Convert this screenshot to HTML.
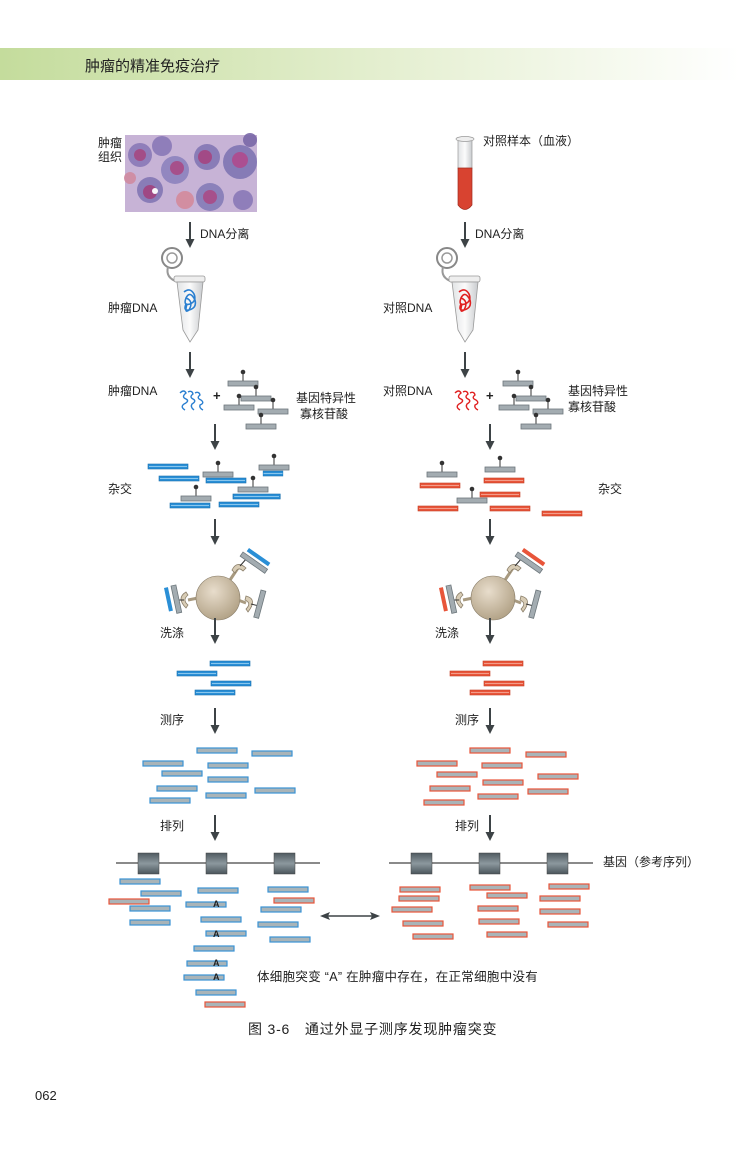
<!DOCTYPE html>
<html><head><meta charset="utf-8">
<style>
html,body{margin:0;padding:0;background:#fff;}
body{width:750px;height:1167px;overflow:hidden;position:relative;font-family:"Liberation Sans","Noto Sans CJK SC",sans-serif;}
svg text{font-family:"Liberation Sans","Noto Sans CJK SC",sans-serif;fill:#222;}
</style></head><body>
<svg width="750" height="1167" viewBox="0 0 750 1167" xmlns="http://www.w3.org/2000/svg">
<defs>
<linearGradient id="hdr" x1="0" x2="1" y1="0" y2="0">
<stop offset="0" stop-color="#c4dc9c"/><stop offset="0.55" stop-color="#e6f0d3"/><stop offset="1" stop-color="#ffffff"/></linearGradient>
<linearGradient id="box" x1="0" x2="0" y1="0" y2="1">
<stop offset="0" stop-color="#4f5a60"/><stop offset="0.5" stop-color="#8c989e"/><stop offset="1" stop-color="#4a555b"/></linearGradient>
<radialGradient id="bead" cx="0.4" cy="0.35" r="0.7">
<stop offset="0" stop-color="#e8ddcc"/><stop offset="1" stop-color="#b0a084"/></radialGradient>
<linearGradient id="tube" x1="0" x2="1"><stop offset="0" stop-color="#e1e3e5"/><stop offset="0.5" stop-color="#fbfbfb"/><stop offset="1" stop-color="#c8cbce"/></linearGradient>
<g id="arrow"><line x1="0" y1="0" x2="0" y2="20" stroke="#3d4346" stroke-width="2"/><path d="M-4.5,17 L0,26 L4.5,17 Z" fill="#3d4346"/></g>
<g id="olig"><line x1="15" y1="0" x2="15" y2="-8" stroke="#333" stroke-width="1"/><circle cx="15" cy="-9" r="2.3" fill="#333"/><rect x="0" y="0" width="30" height="5" fill="#a3acb1" stroke="#6d777c" stroke-width="0.8"/></g>
<g id="bb"><rect x="0" y="0" width="40" height="5" fill="#2a8fd6" stroke="#1a6fae" stroke-width="0.6"/><line x1="1" y1="2.5" x2="39" y2="2.5" stroke="#a8d8f5" stroke-width="0.8"/></g>
<g id="rb"><rect x="0" y="0" width="40" height="5" fill="#e8553a" stroke="#c43e24" stroke-width="0.6"/><line x1="1" y1="2.5" x2="39" y2="2.5" stroke="#f7b4a4" stroke-width="0.8"/></g>
<g id="br"><rect x="0" y="0" width="40" height="5" fill="#a9b4b8" stroke="#3a93d4" stroke-width="1.2"/></g>
<g id="rr"><rect x="0" y="0" width="40" height="5" fill="#a9b4b8" stroke="#e8553a" stroke-width="1.2"/></g>
</defs>

<rect x="0" y="48" width="740" height="32" fill="url(#hdr)"/>
<text x="85" y="71" font-size="15">肿瘤的精准免疫治疗</text>

<text x="98" y="147" font-size="12">肿瘤</text>
<text x="98" y="161" font-size="12">组织</text>
<rect x="125" y="135" width="132" height="77" fill="#c7b3d6"/>
<g opacity="0.9">
<circle cx="140" cy="155" r="12" fill="#8a79b7"/><circle cx="140" cy="155" r="6" fill="#a0427f"/>
<circle cx="162" cy="146" r="10" fill="#8a79b7"/><circle cx="175" cy="170" r="14" fill="#8d83be"/><circle cx="177" cy="168" r="7" fill="#a34683"/>
<circle cx="207" cy="157" r="13" fill="#8377b4"/><circle cx="205" cy="157" r="7" fill="#9f3f7e"/>
<circle cx="240" cy="162" r="17" fill="#7f75b3"/><circle cx="240" cy="160" r="8" fill="#a8458a"/>
<circle cx="150" cy="190" r="13" fill="#8377b4"/><circle cx="150" cy="192" r="7" fill="#9b3d7c"/>
<circle cx="210" cy="197" r="14" fill="#857cb8"/><circle cx="210" cy="197" r="7" fill="#a34683"/>
<circle cx="185" cy="200" r="9" fill="#d48a9c"/><circle cx="243" cy="200" r="10" fill="#8a79b7"/>
<circle cx="130" cy="178" r="6" fill="#d08aa0"/><circle cx="250" cy="140" r="7" fill="#7a68a8"/>
<circle cx="155" cy="191" r="3" fill="#fff"/>
</g>

<rect x="458" y="139" width="14" height="30" fill="url(#tube)" stroke="#999" stroke-width="0.7"/>
<ellipse cx="465" cy="139" rx="9" ry="2.5" fill="#eee" stroke="#999" stroke-width="0.7"/>
<path d="M458,168 L472,168 L472,205 Q465,214 458,205 Z" fill="#d84330" stroke="#a12c1e" stroke-width="0.7"/>
<text x="483" y="145" font-size="12">对照样本（血液）</text>

<use href="#arrow" x="190" y="222"/>
<text x="200" y="238" font-size="12">DNA分离</text>
<use href="#arrow" x="465" y="222"/>
<text x="475" y="238" font-size="12">DNA分离</text>

<g id="eppL">
<circle cx="172" cy="258" r="10" fill="none" stroke="#888" stroke-width="2"/><circle cx="172" cy="258" r="5" fill="none" stroke="#999" stroke-width="1.5"/>
<path d="M168,267 Q165,278 178,282" fill="none" stroke="#999" stroke-width="2"/>
<rect x="174" y="276" width="31" height="6" rx="2" fill="#eee" stroke="#999" stroke-width="0.8"/>
<path d="M177,282 L203,282 L198,330 L190,342 L183,330 Z" fill="url(#tube)" stroke="#999" stroke-width="0.8"/>
</g>
<g stroke="#2a7fd0" stroke-width="1.6" fill="none">
<path d="M184,292 q6,-5 10,2 q3,7 -4,10 q-7,2 -4,-6 q4,-8 9,2 q2,8 -6,10 q-6,1 -3,-6 M186,298 q8,3 3,12 q-5,4 -2,-6"/>
</g>
<text x="108" y="312" font-size="12">肿瘤DNA</text>
<use href="#eppL" x="275"/>
<g stroke="#e02020" stroke-width="1.6" fill="none" transform="translate(275,0)">
<path d="M184,292 q6,-5 10,2 q3,7 -4,10 q-7,2 -4,-6 q4,-8 9,2 q2,8 -6,10 q-6,1 -3,-6 M186,298 q8,3 3,12 q-5,4 -2,-6"/>
</g>
<text x="383" y="312" font-size="12">对照DNA</text>

<use href="#arrow" x="190" y="352"/>
<use href="#arrow" x="465" y="352"/>

<text x="108" y="395" font-size="12">肿瘤DNA</text>
<path d="M180,393 q4,-4 6,0 q-5,4 0,6 q4,2 -2,5 q-4,3 1,6 M188,392 q4,-2 5,2 q-4,3 0,5 q4,2 -1,5 q-2,3 2,6 M195,393 q4,-2 5,2 q-4,3 1,5 q4,3 -1,5 q-1,3 3,5" fill="none" stroke="#2a7fd0" stroke-width="1.4"/>
<text x="213" y="400" font-size="13" font-weight="bold">+</text>
<g id="oligs">
<use href="#olig" x="228" y="381"/><use href="#olig" x="241" y="396"/><use href="#olig" x="224" y="405"/><use href="#olig" x="258" y="409"/><use href="#olig" x="246" y="424"/>
</g>
<text x="296" y="402" font-size="12">基因特异性</text>
<text x="300" y="418" font-size="12">寡核苷酸</text>

<text x="383" y="395" font-size="12">对照DNA</text>
<path d="M455,393 q4,-4 6,0 q-5,4 0,6 q4,2 -2,5 q-4,3 1,6 M463,392 q4,-2 5,2 q-4,3 0,5 q4,2 -1,5 q-2,3 2,6 M470,393 q4,-2 5,2 q-4,3 1,5 q4,3 -1,5 q-1,3 3,5" fill="none" stroke="#e02020" stroke-width="1.4"/>
<text x="486" y="400" font-size="13" font-weight="bold">+</text>
<use href="#oligs" x="275"/>
<text x="568" y="395" font-size="12">基因特异性</text>
<text x="568" y="411" font-size="12">寡核苷酸</text>

<use href="#arrow" x="215" y="424"/>
<use href="#arrow" x="490" y="424"/>

<text x="108" y="493" font-size="12">杂交</text>
<use href="#bb" x="148" y="464"/>
<use href="#bb" x="159" y="476"/>
<use href="#olig" x="203" y="472"/><use href="#bb" x="206" y="478"/>
<use href="#olig" x="259" y="465"/><g transform="translate(263,471) scale(0.5,1)"><use href="#bb"/></g>
<use href="#olig" x="238" y="487"/>
<g transform="translate(233,494) scale(1.18,1)"><use href="#bb"/></g>
<use href="#olig" x="181" y="496"/><use href="#bb" x="170" y="503"/>
<use href="#bb" x="219" y="502"/>

<text x="598" y="493" font-size="12">杂交</text>
<use href="#olig" x="427" y="472"/><use href="#rb" x="420" y="483"/>
<use href="#olig" x="485" y="467"/><use href="#rb" x="484" y="478"/>
<use href="#rb" x="480" y="492"/>
<use href="#olig" x="457" y="498"/><use href="#rb" x="418" y="506"/>
<use href="#rb" x="490" y="506"/>
<use href="#rb" x="542" y="511"/>

<use href="#arrow" x="215" y="519"/>
<use href="#arrow" x="490" y="519"/>

<g id="beadL">
<line x1="230" y1="580" x2="238" y2="568" stroke="#a89a80" stroke-width="3"/>
<path d="M232,570 q5,-10 14,-2 l-3,3 q-5,-5 -8,2 z" fill="#d8ccb5" stroke="#8b7f6a" stroke-width="0.8"/>
<line x1="240" y1="566" x2="247" y2="558" stroke="#333" stroke-width="1"/>
<g transform="translate(243,552) rotate(35)"><rect x="0" y="0" width="30" height="5" fill="#a3acb1" stroke="#6d777c" stroke-width="0.8"/></g>
<line x1="198" y1="598" x2="188" y2="600" stroke="#a89a80" stroke-width="3"/>
<path d="M186,592 q-10,6 0,16 l2,-3 q-6,-5 0,-10 z" fill="#d8ccb5" stroke="#8b7f6a" stroke-width="0.8"/>
<line x1="184" y1="600" x2="175" y2="600" stroke="#333" stroke-width="1"/>
<g transform="translate(171,586) rotate(-12)"><rect x="0" y="0" width="5" height="28" fill="#a3acb1" stroke="#6d777c" stroke-width="0.8"/></g>
<line x1="238" y1="600" x2="246" y2="603" stroke="#a89a80" stroke-width="3"/>
<path d="M246,596 q12,3 2,16 l-2,-3 q6,-6 -1,-9 z" fill="#d8ccb5" stroke="#8b7f6a" stroke-width="0.8"/>
<line x1="251" y1="604" x2="259" y2="606" stroke="#333" stroke-width="1"/>
<g transform="translate(261,590) rotate(15)"><rect x="0" y="0" width="5" height="28" fill="#a3acb1" stroke="#6d777c" stroke-width="0.8"/></g>
<circle cx="218" cy="598" r="22" fill="url(#bead)" stroke="#8b7f6a" stroke-width="0.6"/>
</g>
<g transform="translate(249,548) rotate(35)"><rect x="0" y="0" width="26" height="4" fill="#2a8fd6"/></g>
<g transform="translate(164,588) rotate(-12)"><rect x="0" y="0" width="4" height="24" fill="#2a8fd6"/></g>
<use href="#beadL" x="275"/>
<g transform="translate(524,548) rotate(35)"><rect x="0" y="0" width="26" height="4" fill="#e8553a"/></g>
<g transform="translate(439,588) rotate(-12)"><rect x="0" y="0" width="4" height="24" fill="#e8553a"/></g>

<text x="160" y="637" font-size="12">洗涤</text>
<use href="#arrow" x="215" y="618"/>
<text x="435" y="637" font-size="12">洗涤</text>
<use href="#arrow" x="490" y="618"/>
<use href="#bb" x="210" y="661"/><use href="#bb" x="177" y="671"/><use href="#bb" x="211" y="681"/><use href="#bb" x="195" y="690"/>
<use href="#rb" x="483" y="661"/><use href="#rb" x="450" y="671"/><use href="#rb" x="484" y="681"/><use href="#rb" x="470" y="690"/>

<text x="160" y="724" font-size="12">测序</text>
<use href="#arrow" x="215" y="708"/>
<text x="455" y="724" font-size="12">测序</text>
<use href="#arrow" x="490" y="708"/>
<g>
<use href="#br" x="197" y="748"/><use href="#br" x="143" y="761"/><use href="#br" x="252" y="751"/><use href="#br" x="208" y="763"/>
<use href="#br" x="162" y="771"/><use href="#br" x="208" y="777"/><use href="#br" x="157" y="786"/><use href="#br" x="255" y="788"/>
<use href="#br" x="206" y="793"/><use href="#br" x="150" y="798"/>
</g>
<g>
<use href="#rr" x="470" y="748"/><use href="#rr" x="417" y="761"/><use href="#rr" x="526" y="752"/><use href="#rr" x="482" y="763"/>
<use href="#rr" x="437" y="772"/><use href="#rr" x="538" y="774"/><use href="#rr" x="483" y="780"/><use href="#rr" x="430" y="786"/>
<use href="#rr" x="528" y="789"/><use href="#rr" x="478" y="794"/><use href="#rr" x="424" y="800"/>
</g>

<text x="160" y="830" font-size="12">排列</text>
<use href="#arrow" x="215" y="815"/>
<text x="455" y="830" font-size="12">排列</text>
<use href="#arrow" x="490" y="815"/>

<g id="gene">
<line x1="116" y1="863" x2="320" y2="863" stroke="#444" stroke-width="1.2"/>
<rect x="138" y="853" width="21" height="21" fill="url(#box)" stroke="#444" stroke-width="0.5"/>
<rect x="206" y="853" width="21" height="21" fill="url(#box)" stroke="#444" stroke-width="0.5"/>
<rect x="274" y="853" width="21" height="21" fill="url(#box)" stroke="#444" stroke-width="0.5"/>
</g>
<use href="#gene" x="273"/>
<text x="603" y="866" font-size="12">基因（参考序列）</text>

<use href="#br" x="120" y="879"/><use href="#br" x="141" y="891"/><use href="#rr" x="109" y="899"/><use href="#br" x="130" y="906"/><use href="#br" x="130" y="920"/>
<use href="#br" x="198" y="888"/><use href="#br" x="186" y="902"/><use href="#br" x="201" y="917"/><use href="#br" x="206" y="931"/>
<use href="#br" x="194" y="946"/><use href="#br" x="187" y="961"/><use href="#br" x="184" y="975"/><use href="#br" x="196" y="990"/><use href="#rr" x="205" y="1002"/>
<use href="#br" x="268" y="887"/><use href="#rr" x="274" y="898"/><use href="#br" x="261" y="907"/><use href="#br" x="258" y="922"/><use href="#br" x="270" y="937"/>
<text x="213" y="907" font-weight="bold" font-size="9">A</text>
<text x="213" y="937" font-weight="bold" font-size="9">A</text>
<text x="213" y="966" font-weight="bold" font-size="9">A</text>
<text x="213" y="980" font-weight="bold" font-size="9">A</text>

<use href="#rr" x="400" y="887"/><use href="#rr" x="399" y="896"/><use href="#rr" x="392" y="907"/><use href="#rr" x="403" y="921"/><use href="#rr" x="413" y="934"/>
<use href="#rr" x="470" y="885"/><use href="#rr" x="487" y="893"/><use href="#rr" x="478" y="906"/><use href="#rr" x="479" y="919"/><use href="#rr" x="487" y="932"/>
<use href="#rr" x="549" y="884"/><use href="#rr" x="540" y="896"/><use href="#rr" x="540" y="909"/><use href="#rr" x="548" y="922"/>

<line x1="326" y1="916" x2="374" y2="916" stroke="#3d4346" stroke-width="1.6"/>
<path d="M320,916 L330,912 L328,916 L330,920 Z" fill="#3d4346"/>
<path d="M380,916 L370,912 L372,916 L370,920 Z" fill="#3d4346"/>

<text x="257" y="981" font-size="12.5" letter-spacing="0.3">体细胞突变 “A” 在肿瘤中存在，在正常细胞中没有</text>
<text x="248" y="1034" font-size="14" letter-spacing="0.8">图 3-6　通过外显子测序发现肿瘤突变</text>
<text x="35" y="1100" font-size="13">062</text>
</svg>
</body></html>
